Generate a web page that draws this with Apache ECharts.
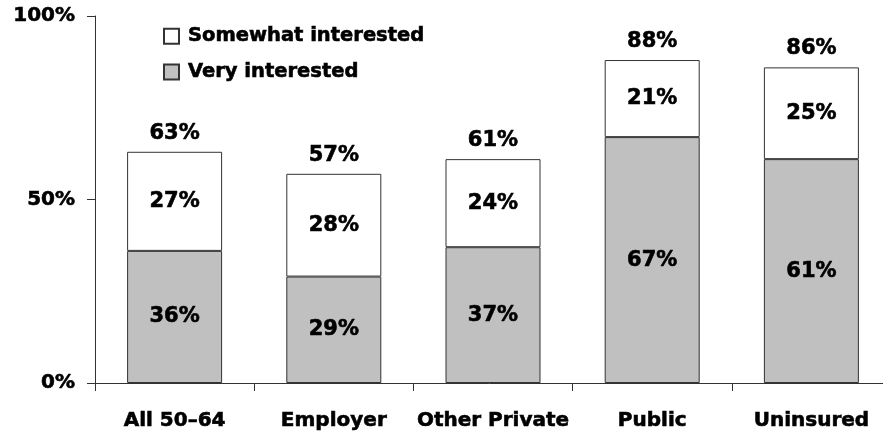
<!DOCTYPE html>
<html>
<head>
<meta charset="utf-8">
<script src="https://cdn.jsdelivr.net/npm/echarts@6/dist/echarts.min.js"></script>
<style>html,body{margin:0;padding:0;background:#fff}#c{width:883px;height:437px}</style>
</head>
<body>
<div id="c"></div>
<script>
var categories = ['All 50\u201364', 'Employer', 'Other Private', 'Public', 'Uninsured'];
var veryInterested = [36, 29, 37, 67, 61];
var somewhatInterested = [27, 28, 24, 21, 25];
var totals = [63, 57, 61, 88, 86];
var yTicks = [0, 50, 100];

var FONT = 'DejaVu Sans';
function txt(size) {
  return { color: '#000', fontFamily: FONT, fontWeight: 'bold', fontSize: size, textBorderColor: '#000', textBorderWidth: 0.6 };
}
var chart = echarts.init(document.getElementById('c'));
chart.setOption({
  animation: false,
  backgroundColor: '#fff',
  grid: { left: 95, width: 796, top: 16, bottom: 54, containLabel: false, outerBoundsMode: 'none' },
  legend: {
    orient: 'vertical', left: 163, top: 26, padding: 0, itemWidth: 15, itemHeight: 15, itemGap: 15,
    data: ['Somewhat interested', 'Very interested'],
    textStyle: Object.assign(txt(19.5), { padding: [0, 0, 0, 4] }),
    icon: 'rect'
  },
  xAxis: {
    type: 'category', data: categories,
    axisLine: { lineStyle: { color: '#333', width: 1 } },
    axisTick: { show: true, length: 8, lineStyle: { color: '#333' } },
    axisLabel: Object.assign(txt(20), { margin: 28, interval: 0 })
  },
  yAxis: {
    type: 'value', min: yTicks[0], max: yTicks[yTicks.length - 1], interval: yTicks[1] - yTicks[0],
    splitLine: { show: false },
    axisLine: { show: true, lineStyle: { color: '#333', width: 1 } },
    axisTick: { show: true, length: 8, lineStyle: { color: '#333' } },
    axisLabel: Object.assign(txt(20), { margin: 20, formatter: '{value}%' })
  },
  series: [
    {
      name: 'Very interested', type: 'bar', stack: 's', barWidth: 95, data: veryInterested,
      itemStyle: { color: '#c0c0c0', borderColor: '#333', borderWidth: 1 },
      label: Object.assign(txt(21), { show: true, position: 'inside', formatter: '{c}%' })
    },
    {
      name: 'Somewhat interested', type: 'bar', stack: 's', barWidth: 95, data: somewhatInterested,
      itemStyle: { color: '#ffffff', borderColor: '#333', borderWidth: 1 },
      label: Object.assign(txt(21), { show: true, position: 'inside', formatter: '{c}%' })
    },
    {
      name: 'Total', type: 'bar', stack: 's', barWidth: 95, data: totals.map(function(){ return 0; }),
      itemStyle: { color: 'rgba(0,0,0,0)', borderWidth: 0 },
      label: Object.assign(txt(21), { show: true, position: 'top', distance: 8, formatter: function(p){ return totals[p.dataIndex] + '%'; } })
    }
  ]
});
</script>
</body>
</html>
